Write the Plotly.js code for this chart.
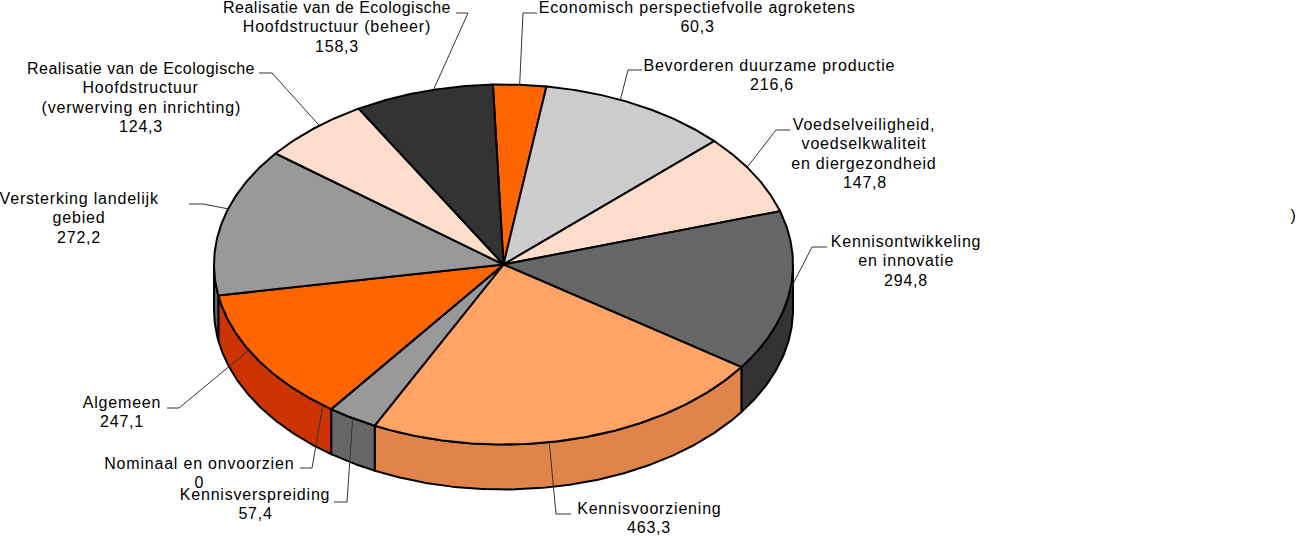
<!DOCTYPE html>
<html>
<head>
<meta charset="utf-8">
<script src="https://cdn.plot.ly/plotly-3.0.1.min.js"></script>
<style>
  html, body { margin: 0; padding: 0; background: #fff; }
  #chart { width: 1298px; height: 536px; }
  #chart .annotation text { letter-spacing: 0.8px; }
</style>
</head>
<body>
<div id="chart"></div>
<script>
// Budget per beleidsartikel
const sliceNames = [
    ['Economisch perspectiefvolle agroketens'],
    ['Bevorderen duurzame productie'],
    ['Voedselveiligheid,', 'voedselkwaliteit', 'en diergezondheid'],
    ['Kennisontwikkeling', 'en innovatie'],
    ['Kennisvoorziening'],
    ['Kennisverspreiding'],
    ['Nominaal en onvoorzien'],
    ['Algemeen'],
    ['Versterking landelijk', 'gebied'],
    ['Realisatie van de Ecologische', 'Hoofdstructuur', '(verwerving en inrichting)'],
    ['Realisatie van de Ecologische', 'Hoofdstructuur (beheer)']
];
const sliceValues = [60.3, 216.6, 147.8, 294.8, 463.3, 57.4, 0, 247.1, 272.2, 124.3, 158.3];

// Styles
const topColors = ['#FF6600', '#CCCCCC', '#FFDDCC', '#666666', '#FFA366', '#999999', '#999999', '#FF6600', '#999999', '#FFDDCC', '#333333'];
const sideColors = ['#CC5200', '#A3A3A3', '#CCB1A3', '#333333', '#E0844C', '#666666', '#666666', '#CC3300', '#666666', '#CCB1A3', '#222222'];

// Label placement, in page pixels (labelY = centre of the first line)
const labelX = [697, 769, 864, 906, 649, 255, 199, 122, 79, 141, 337];
const valueX = [697, 772, 865, 906, 649, 255, 199, 122, 79, 141, 337];
const labelY = [7, 65, 124, 241, 508, 494, 463, 402, 198, 68, 7];
const lineGap = 19.6;

// Leader lines: rim angle where they leave the pie, then elbow and stub
const leaderAngle = [3.2, 23.8, 57.3, 98, 170.9, 211.4, 218.6, 241.6, 288, 320.5, 346];
const elbowX = [523, 628, 776, 812, 556, 347, 312, 179, 203, 272, 468];
const elbowY = [13, 70, 130, 247, 514, 502, 468, 408, 204, 73, 13];
const stubX = [537, 642, 790, 827, 571, 334, 300, 167, 189, 259, 456];

// Pie geometry
const cx = 503.5, cy = 264.5, rx = 289.5, ry = 180, depth = 45, startAngle = -2.1;
const total = sliceValues.reduce((a, b) => a + b, 0);
const labelFont = { family: 'Liberation Sans, sans-serif', size: 16, color: '#000' };

function rimX(t) { return cx + rx * Math.sin(t * Math.PI / 180); }
function rimY(t) { return cy - ry * Math.cos(t * Math.PI / 180); }

function arcAngles(from, to) {
    const out = [];
    for (let t = from; t < to; t += 0.5) out.push(t);
    out.push(to);
    return out;
}

// the long "Realisatie" lines run a bit tighter in the original
function lineText(line) {
    if (line.startsWith('Realisatie')) {
        return '<span style="letter-spacing:0.5px">' + line + '</span>';
    }
    return line;
}

const sideTraces = [];
const topTraces = [];
const leaderTraces = [];
const annotations = [];

let angle = startAngle;
sliceValues.forEach((value, i) => {
    const sweep = value / total * 360;
    const from = angle, to = angle + sweep;
    angle = to;

    // the wall is only visible on the front half of the ellipse
    const wallFrom = Math.max(from, 90), wallTo = Math.min(to, 270);
    if (wallTo > wallFrom) {
        const arc = arcAngles(wallFrom, wallTo);
        const back = arc.slice().reverse();
        sideTraces.push({
            x: arc.map(rimX).concat(back.map(rimX), [rimX(wallFrom)]),
            y: arc.map(t => rimY(t)).concat(back.map(t => rimY(t) + depth), [rimY(wallFrom)]),
            type: 'scatter', mode: 'lines', fill: 'toself', fillcolor: sideColors[i],
            line: { color: '#000', width: 2 }, hoverinfo: 'skip'
        });
    }

    const arc = arcAngles(from, to);
    topTraces.push({
        x: [cx].concat(arc.map(rimX), [cx]),
        y: [cy].concat(arc.map(rimY), [cy]),
        type: 'scatter', mode: 'lines', fill: 'toself', fillcolor: topColors[i],
        line: { color: '#000', width: 2 }, hoverinfo: 'skip'
    });

    leaderTraces.push({
        x: [rimX(leaderAngle[i]), elbowX[i], stubX[i]],
        y: [rimY(leaderAngle[i]), elbowY[i], elbowY[i]],
        type: 'scatter', mode: 'lines',
        line: { color: '#333', width: 1 }, hoverinfo: 'skip'
    });

    // one annotation per line so the line spacing can follow the original
    const lines = sliceNames[i].concat(String(value).replace('.', ','));
    lines.forEach((line, k) => {
        annotations.push({
            x: k === lines.length - 1 ? valueX[i] : labelX[i],
            y: labelY[i] + k * lineGap, xref: 'x', yref: 'y',
            xanchor: 'center', yanchor: 'middle', align: 'center', showarrow: false,
            text: lineText(line), font: labelFont
        });
    });
});

// stray bracket at the right edge of the original
annotations.push({
    x: 1293, y: 215, xref: 'x', yref: 'y', xanchor: 'center', yanchor: 'middle',
    showarrow: false, text: ')', font: labelFont
});

const layout = {
    width: 1298,
    height: 536,
    margin: { l: 0, r: 0, t: 0, b: 0 },
    paper_bgcolor: '#fff',
    plot_bgcolor: '#fff',
    showlegend: false,
    xaxis: { range: [0, 1298], visible: false, fixedrange: true },
    yaxis: { range: [536, 0], visible: false, fixedrange: true },
    annotations: annotations
};

Plotly.newPlot('chart', sideTraces.concat(topTraces, leaderTraces), layout, { displayModeBar: false, staticPlot: true });
</script>
</body>
</html>
